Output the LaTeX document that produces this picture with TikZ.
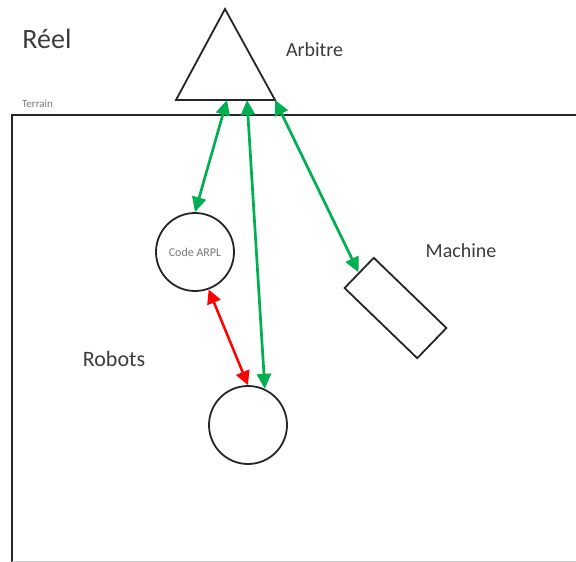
\documentclass[tikz,border=0pt]{standalone}
\usepackage{fontspec}
\setmainfont{Carlito}
\usetikzlibrary{arrows.meta}
\definecolor{linkgreen}{RGB}{0,176,80}
\definecolor{linkred}{RGB}{255,0,0}
\definecolor{labeldark}{RGB}{60,60,60}
\definecolor{labellight}{RGB}{120,120,120}
\begin{document}
\begin{tikzpicture}[x=1pt,y=-1pt,
  outline/.style={draw=black!85, line width=1.8pt},
  disc/.style={outline, circle, minimum size=78pt, inner sep=0pt},
  link/.style={line width=2.7pt, draw=linkgreen, {Triangle[length=15pt,width=14pt]}-{Triangle[length=15pt,width=14pt]}},
  redlink/.style={line width=2.5pt, draw=linkred, {Triangle[length=14pt,width=14pt]}-{Triangle[length=14pt,width=14pt]}},
  biglabel/.style={anchor=base, text=labeldark, font=\fontsize{20}{24}\selectfont},
  smalllabel/.style={anchor=base, text=labellight}]
\useasboundingbox (0,0) rectangle (576,562);
\fill[white] (0,0) rectangle (576,562);

% playing field
\draw[outline] (600,115) -- (12,115) -- (12,575);
\draw[black!20, line width=1pt] (12,561.5) -- (600,561.5);

% referee triangle and its contact points on the base
\draw[outline, line join=miter] (176,100) -- (225,9) -- (275,100) -- cycle;
\coordinate (arbA) at (227,100);
\coordinate (arbB) at (247,100);
\coordinate (arbC) at (275,100);

% robots and machine
\node[disc, text=labellight, font=\fontsize{12}{14}\selectfont] (code) at (195,252) {Code ARPL};
\node[disc] (robot) at (248,425) {};
\node[outline, rectangle, minimum width=101pt, minimum height=42pt, inner sep=0pt, rotate=-44] (machine) at (395.5,308) {};

% links
\draw[link] (arbA) -- (code.north);
\draw[link] (arbB) -- (robot.65);
\draw[link] (arbC) -- (machine.west);
\draw[redlink] (code.-70) -- (robot.north);

% labels
\node[anchor=base, text=labeldark, font=\fontsize{28}{32}\selectfont] (reel) at (47,48) {Réel};
\node[biglabel] (arbitre) at (314.5,56.5) {Arbitre};
\node[biglabel] (machinelbl) at (461,257) {Machine};
\node[biglabel, font=\fontsize{22}{26}\selectfont] (robotslbl) at (114,366.5) {Robots};
\node[smalllabel, font=\fontsize{11}{13}\selectfont] (terrain) at (37.5,107) {Terrain};
\end{tikzpicture}
\end{document}
